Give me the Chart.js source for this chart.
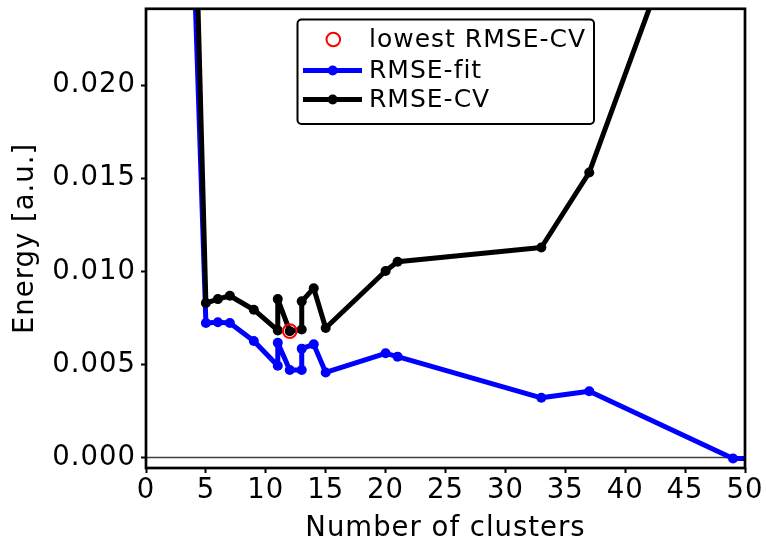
<!DOCTYPE html>
<html>
<head>
<meta charset="utf-8">
<script src="https://cdn.jsdelivr.net/npm/chart.js@4.4.1/dist/chart.umd.min.js"></script>
<style>
  html, body { margin: 0; padding: 0; background: #fff; }
  #wrap { width: 766px; height: 545px; }
</style>
</head>
<body>
<div id="wrap"><canvas id="clusterChart" width="766" height="545"></canvas></div>
<script>
// values
var clusters = [4, 5, 6, 7, 9, 11, 11, 12, 13, 13, 14, 15, 20, 21, 33, 37, 49, 57];
var rmseFit  = [0.0267, 0.00723, 0.00727, 0.00723, 0.00626, 0.00493, 0.00617, 0.00470, 0.00470, 0.00585,
                0.00608, 0.00457, 0.00560, 0.00542, 0.00321, 0.00356, -0.00005, 0.0000];
var rmseCv   = [0.0324, 0.00830, 0.00851, 0.00869, 0.00794, 0.00683, 0.00851, 0.00679, 0.00688, 0.00839,
                0.00909, 0.00696, 0.01002, 0.01052, 0.01128, 0.01531, 0.0364, 0.0450];
var lowestX = [12];
var lowestY = [0.00679];

var xTicks = [0, 5, 10, 15, 20, 25, 30, 35, 40, 45, 50];
var yTicks = [0, 0.005, 0.010, 0.015, 0.020];

function toPoints(xs, ys) {
  return xs.map(function(x, i) { return { x: x, y: ys[i] }; });
}

var FONT = 'DejaVu Sans';

// frame, zero line and legend
var framePlugin = {
  id: 'frame',
  beforeDraw: function(chart) {
    chart.ctx.letterSpacing = '1px';
  },
  beforeDatasetsDraw: function(chart) {
    var ctx = chart.ctx, a = chart.chartArea;
    var y0 = chart.scales.y.getPixelForValue(0);
    ctx.save();
    ctx.strokeStyle = '#404040';
    ctx.lineWidth = 1.5;
    ctx.beginPath();
    ctx.moveTo(a.left, y0);
    ctx.lineTo(a.right, y0);
    ctx.stroke();
    ctx.restore();
  },
  afterDraw: function(chart) {
    var ctx = chart.ctx, a = chart.chartArea;
    ctx.save();
    ctx.strokeStyle = '#000';
    ctx.lineWidth = 2.7;
    ctx.strokeRect(a.left, a.top, a.right - a.left, a.bottom - a.top);

    // legend box
    var bx = 297.5, by = 19.5, bw = 296.5, bh = 104.5;
    ctx.beginPath();
    ctx.roundRect(bx, by, bw, bh, 4);
    ctx.fillStyle = '#fff';
    ctx.fill();
    ctx.lineWidth = 2;
    ctx.strokeStyle = '#000';
    ctx.stroke();

    var ds = chart.data.datasets;
    var order = [0, 2, 1];
    var rows = [39.5, 70.5, 99.5];
    ctx.font = '25px "' + FONT + '"';
    ctx.letterSpacing = '1px';
    ctx.textBaseline = 'middle';
    ctx.textAlign = 'left';
    order.forEach(function(idx, r) {
      var d = ds[idx], cy = rows[r];
      if (d.showLine) {
        ctx.strokeStyle = d.borderColor;
        ctx.lineWidth = d.borderWidth;
        ctx.beginPath();
        ctx.moveTo(303, cy);
        ctx.lineTo(362, cy);
        ctx.stroke();
        ctx.fillStyle = d.pointBackgroundColor;
        ctx.beginPath();
        ctx.arc(332.7, cy, d.pointRadius, 0, Math.PI * 2);
        ctx.fill();
      } else {
        ctx.strokeStyle = d.pointBorderColor;
        ctx.lineWidth = d.pointBorderWidth;
        ctx.beginPath();
        ctx.arc(333.3, cy, d.pointRadius, 0, Math.PI * 2);
        ctx.stroke();
      }
      ctx.fillStyle = '#000';
      ctx.fillText(d.label, 369, cy + 1);
    });
    ctx.restore();
  }
};

new Chart(document.getElementById('clusterChart').getContext('2d'), {
  type: 'scatter',
  data: {
    datasets: [{
      label: 'lowest RMSE-CV',
      data: toPoints(lowestX, lowestY),
      showLine: false,
      pointRadius: 6.8,
      pointBorderWidth: 2,
      pointBorderColor: '#ff0000',
      pointBackgroundColor: 'rgba(0,0,0,0)',
      clip: 0
    }, {
      label: 'RMSE-CV',
      data: toPoints(clusters, rmseCv),
      showLine: true,
      borderColor: '#000000',
      borderWidth: 5,
      borderJoinStyle: 'round',
      pointRadius: 5,
      pointBorderWidth: 0,
      pointBackgroundColor: '#000000',
      clip: 0
    }, {
      label: 'RMSE-fit',
      data: toPoints(clusters, rmseFit),
      showLine: true,
      borderColor: '#0000ff',
      borderWidth: 5,
      borderJoinStyle: 'round',
      pointRadius: 5,
      pointBorderWidth: 0,
      pointBackgroundColor: '#0000ff',
      clip: 0
    }]
  },
  options: {
    responsive: false,
    animation: false,
    devicePixelRatio: 1,
    layout: { padding: { left: 0, top: 5, right: 21, bottom: 0 } },
    plugins: {
      legend: { display: false },
      tooltip: { enabled: false }
    },
    scales: {
      x: {
        type: 'linear',
        min: 0,
        max: 50,
        afterBuildTicks: function(scale) {
          scale.ticks = xTicks.map(function(v) { return { value: v }; });
        },
        afterFit: function(scale) {
          scale.height = 77;
          scale.paddingLeft = 0;
          scale.paddingRight = 0;
        },
        border: { display: false },
        grid: { drawOnChartArea: false, drawTicks: true, tickLength: 5, tickWidth: 2, tickColor: '#000' },
        ticks: {
          color: '#000',
          padding: 1,
          maxRotation: 0,
          font: { family: FONT, size: 27.5 }
        },
        title: {
          display: true,
          text: 'Number of clusters',
          color: '#000',
          padding: { top: 0, bottom: 0 },
          font: { family: FONT, size: 27.5 }
        }
      },
      y: {
        type: 'linear',
        min: -0.00056,
        max: 0.0241,
        afterBuildTicks: function(scale) {
          scale.ticks = yTicks.map(function(v) { return { value: v }; });
        },
        afterFit: function(scale) {
          scale.width = 146;
          scale.paddingTop = 0;
          scale.paddingBottom = 0;
        },
        border: { display: false },
        grid: { drawOnChartArea: false, drawTicks: true, tickLength: 5, tickWidth: 2, tickColor: '#000' },
        ticks: {
          color: '#000',
          padding: 5,
          font: { family: FONT, size: 27.5 },
          callback: function(v) { return Number(v).toFixed(3); }
        },
        title: {
          display: true,
          text: 'Energy [a.u.]',
          color: '#000',
          padding: { top: 9, bottom: 0 },
          font: { family: FONT, size: 27.5 }
        }
      }
    }
  },
  plugins: [framePlugin]
});
</script>
</body>
</html>
